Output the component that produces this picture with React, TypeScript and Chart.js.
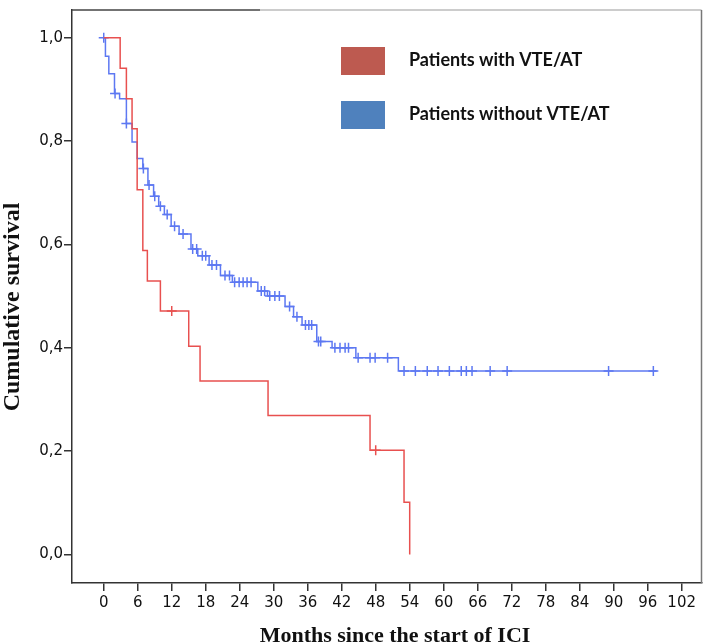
import React, { useEffect, useRef } from 'react';
import { Chart, registerables } from 'chart.js';

Chart.register(...registerables);

// Kaplan-Meier steps: time of event (months) and survival after it
const redTimes = [0, 2.9, 4, 5, 5.9, 6.9, 7.7, 10, 15, 17, 29, 47, 53, 54];
const redSurvival = [1, 0.941, 0.882, 0.824, 0.706, 0.588, 0.529, 0.471, 0.403, 0.336, 0.269, 0.202, 0.101, 0];
const redCensored = [12, 48];

const blueTimes = [
  0, 0.3, 0.9, 1.9, 2.8, 4, 5, 5.9, 6.9, 7.8, 8.8, 9.7, 10.7, 11.9, 13.3, 15.4, 16.6, 18.6,
  20.6, 22.7, 27.2, 28.9, 32, 33.5, 35, 37.6, 40.3, 44.5, 52, 97.6,
];
const blueSurvival = [
  1, 0.964, 0.93, 0.892, 0.882, 0.834, 0.798, 0.766, 0.747, 0.715, 0.693, 0.674, 0.658, 0.635,
  0.62, 0.591, 0.578, 0.56, 0.54, 0.527, 0.51, 0.5, 0.48, 0.46, 0.444, 0.412, 0.4, 0.381, 0.355, 0.355,
];
const blueCensored = [
  0, 2, 4, 7, 8, 9, 10, 11.2, 12.5, 14, 15.7, 16.4, 17.4, 18, 19.1, 19.9, 21.4, 22.2, 23.1, 23.9,
  24.6, 25.3, 26, 27.8, 28.4, 29.3, 30.2, 31, 32.8, 34.1, 35.6, 36.2, 36.7, 37.9, 38.3, 40.8, 41.7,
  42.6, 43.2, 44.9, 47, 47.9, 50.1, 53, 55, 57.1, 59, 61, 63.1, 64, 65, 68.2, 71.2, 89.1, 97,
];

const xTicks = [0, 6, 12, 18, 24, 30, 36, 42, 48, 54, 60, 66, 72, 78, 84, 90, 96, 102];
const yTicks = [0, 0.2, 0.4, 0.6, 0.8, 1.0];

const legendLabels = ['Patients with VTE/AT', 'Patients without VTE/AT'];
const legendColors = ['#bd5a50', '#4f81bd'];
const xTitle = 'Months since the start of ICI';
const yTitle = 'Cumulative survival';

const survivalAt = (times: number[], surv: number[], t: number) => {
  let s = surv[0];
  for (let i = 0; i < times.length; i++) {
    if (times[i] <= t) s = surv[i];
  }
  return s;
};

const decorPlugin = {
  id: 'decor',
  afterDraw(chart: Chart) {
    const { ctx, chartArea } = chart;
    const { left, right, top, bottom } = chartArea;
    ctx.save();
    // remaining frame edges
    ctx.lineWidth = 1.5;
    ctx.strokeStyle = '#444';
    ctx.beginPath();
    ctx.moveTo(left, top);
    ctx.lineTo(left + 188, top);
    ctx.stroke();
    ctx.strokeStyle = '#bbb';
    ctx.beginPath();
    ctx.moveTo(left + 188, top);
    ctx.lineTo(right, top);
    ctx.stroke();
    ctx.strokeStyle = '#777';
    ctx.beginPath();
    ctx.moveTo(right, top);
    ctx.lineTo(right, bottom);
    ctx.stroke();

    // legend
    legendLabels.forEach((label, i) => {
      const bx = left + 269;
      const by = top + 37 + i * 54;
      ctx.fillStyle = legendColors[i];
      ctx.fillRect(bx, by, 44, 28);
      ctx.fillStyle = '#111';
      ctx.font = 'bold 18px Lato';
      ctx.textAlign = 'left';
      ctx.textBaseline = 'middle';
      ctx.fillText(label, bx + 68, by + 13);
    });

    // axis titles
    ctx.fillStyle = '#111';
    ctx.textAlign = 'center';
    ctx.textBaseline = 'alphabetic';
    ctx.font = 'bold 22px "Liberation Serif"';
    ctx.fillText(xTitle, 395, 642);
    ctx.font = 'bold 24px "Liberation Serif"';
    ctx.save();
    ctx.translate(19, 307);
    ctx.rotate(-Math.PI / 2);
    ctx.fillText(yTitle, 0, 0);
    ctx.restore();
    ctx.restore();
  },
};

const lineDataset = (label: string, times: number[], surv: number[], color: string) => ({
  label,
  data: times.map((t, i) => ({ x: t, y: surv[i] })),
  borderColor: color,
  borderWidth: 1.5,
  stepped: 'before' as const,
  pointRadius: 0,
  fill: false,
});

const censorDataset = (label: string, cens: number[], times: number[], surv: number[], color: string) => ({
  label,
  data: cens.map(t => ({ x: t, y: survivalAt(times, surv, t) })),
  showLine: false,
  pointStyle: 'cross' as const,
  pointRadius: 5,
  pointBorderWidth: 1.5,
  pointBorderColor: color,
  borderColor: color,
});

const App: React.FC = () => {
  const canvasRef = useRef<HTMLCanvasElement>(null);

  useEffect(() => {
    document.body.style.margin = '0';
    if (!canvasRef.current) return;
    const redLine = '#e8504f';
    const blueLine = '#5d78f2';
    const chart = new Chart(canvasRef.current, {
      type: 'line',
      data: {
        datasets: [
          lineDataset(legendLabels[0], redTimes, redSurvival, redLine),
          lineDataset(legendLabels[1], blueTimes, blueSurvival, blueLine),
          censorDataset('red censored', redCensored, redTimes, redSurvival, redLine),
          censorDataset('blue censored', blueCensored, blueTimes, blueSurvival, blueLine),
        ],
      },
      options: {
        animation: false,
        responsive: false,
        layout: { padding: { top: 3, right: 3, left: 0, bottom: 0 } },
        plugins: { legend: { display: false }, tooltip: { enabled: false } },
        scales: {
          x: {
            type: 'linear',
            min: -5.6,
            max: 105.5,
            afterBuildTicks: scale => {
              scale.ticks = xTicks.map(value => ({ value }));
            },
            afterFit: scale => {
              scale.height = 61;
            },
            grid: { drawOnChartArea: false, tickLength: 8, color: '#333', lineWidth: 1.5 },
            border: { display: true, color: '#333', width: 1.5 },
            ticks: {
              padding: 3,
              maxRotation: 0,
              autoSkip: false,
              color: '#111',
              font: { family: 'DejaVu Sans', size: 15 },
            },
          },
          y: {
            type: 'linear',
            min: -0.055,
            max: 1.0535,
            afterBuildTicks: scale => {
              scale.ticks = yTicks.map(value => ({ value }));
            },
            afterFit: scale => {
              scale.width = 72;
            },
            grid: { drawOnChartArea: false, tickLength: 8, color: '#333', lineWidth: 1.5 },
            border: { display: true, color: '#333', width: 1.5 },
            ticks: {
              padding: 1,
              color: '#111',
              font: { family: 'DejaVu Sans', size: 15 },
              callback: v => Number(v).toFixed(1).replace('.', ','),
            },
          },
        },
      },
      plugins: [decorPlugin],
    });
    return () => chart.destroy();
  }, []);

  return (
    <div style={{ width: 708, height: 644, background: '#fff' }}>
      <canvas ref={canvasRef} width={708} height={644} />
    </div>
  );
};

export default App;
